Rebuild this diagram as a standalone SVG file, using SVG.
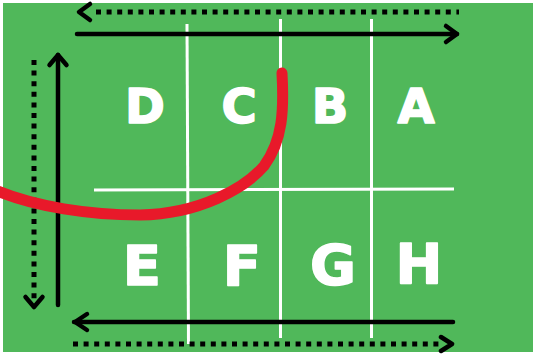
<svg xmlns="http://www.w3.org/2000/svg" width="533" height="354" viewBox="0 0 533 354">
<style>
.grid{stroke:#ffffff;stroke-width:3;fill:none}
.solid{stroke:#000000;stroke-width:4.5;fill:none;stroke-linecap:round;stroke-linejoin:round}
.dot{stroke:#000000;stroke-width:5;fill:none;stroke-dasharray:5 5.6}
.head{stroke:#000000;stroke-width:4.5;fill:none;stroke-linecap:round;stroke-linejoin:round}
.lbl{fill:#ffffff;stroke:#ffffff;stroke-width:1.6;stroke-linejoin:round;font-family:"DejaVu Sans","Liberation Sans",sans-serif;font-weight:bold;text-anchor:middle}
.top{font-size:48px}
.bot{font-size:56px}
</style>
<rect x="0" y="0" width="533" height="354" fill="#ffffff"/>
<rect x="3" y="3" width="530" height="349" fill="#50b85a"/>
<g id="grid">
<line class="grid" x1="187" y1="24" x2="188.5" y2="344"/>
<line class="grid" x1="280.5" y1="19" x2="280.5" y2="338"/>
<line class="grid" x1="371.5" y1="19" x2="371.5" y2="338"/>
<line class="grid" x1="94" y1="190" x2="454" y2="189"/>
</g>
<g id="connectors">
<line class="dot" x1="96" y1="12" x2="459" y2="12"/>
<polyline class="head" points="90,4 79,12 90,20"/>
<line class="solid" x1="77" y1="34" x2="457" y2="34"/>
<polyline class="head" points="446,26 457,34 446,42"/>
<line class="dot" x1="34" y1="60" x2="34" y2="300"/>
<polyline class="head" points="25.5,297 34,307 42.5,297"/>
<line class="solid" x1="58" y1="55" x2="58" y2="305"/>
<polyline class="head" points="49.5,65 58,55 66.5,65"/>
<line class="solid" x1="74" y1="322" x2="453" y2="322"/>
<polyline class="head" points="87,314 75,322 87,330"/>
<line class="dot" x1="73" y1="344" x2="440" y2="344"/>
<polyline class="head" points="441,337 452,344 441,351"/>
</g>
<g id="node-D"><text class="lbl top" x="145" y="123">D</text></g>
<g id="node-C"><text class="lbl top" x="239" y="123">C</text></g>
<g id="node-B"><text class="lbl top" x="330" y="123">B</text></g>
<g id="node-A"><text class="lbl top" x="416" y="123">A</text></g>
<g id="node-E"><text class="lbl bot" x="142" y="285">E</text></g>
<g id="node-F"><text class="lbl bot" x="242" y="285">F</text></g>
<g id="node-G"><text class="lbl bot" x="333" y="284">G</text></g>
<g id="node-H"><text class="lbl bot" x="419" y="283">H</text></g>
<g id="red-curve">
<path d="M282,73 C284,110 283,140 264,166 C245,188 200,214 140,215 C90,215 35,207 -5,190" fill="none" stroke="#e8192a" stroke-width="11" stroke-linecap="round"/>
</g>
</svg>
